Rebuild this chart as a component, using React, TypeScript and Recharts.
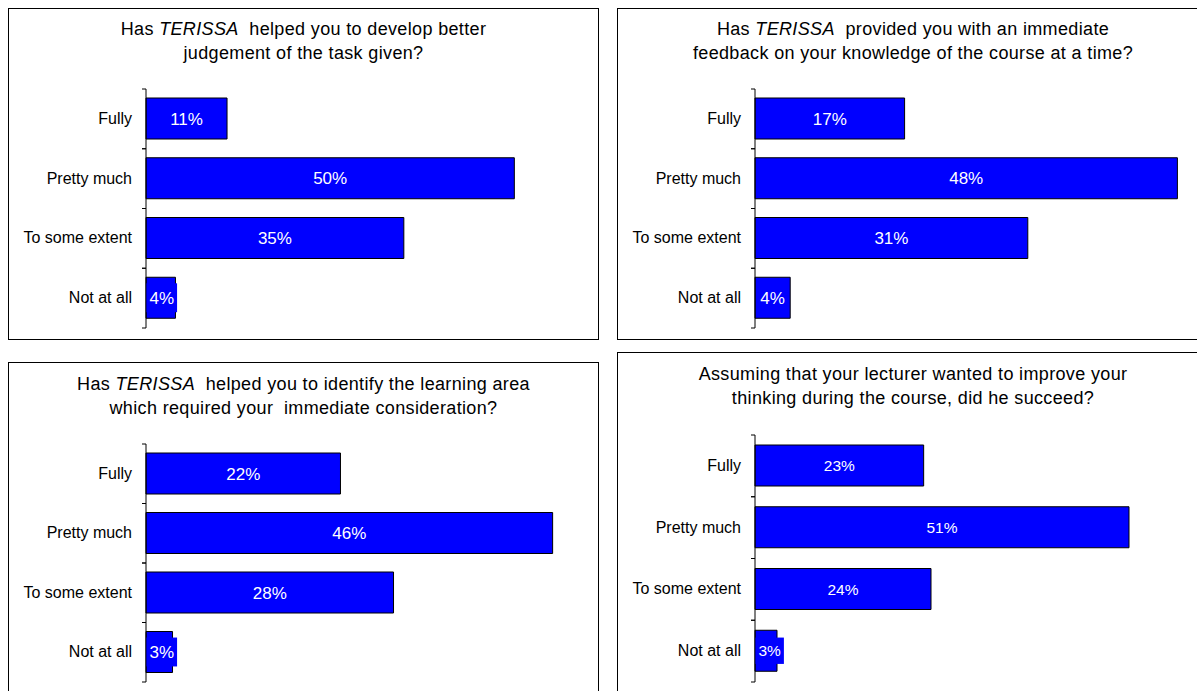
import React from 'react';
import { BarChart, Bar, XAxis, YAxis, LabelList } from 'recharts';

const categories = ['Fully', 'Pretty much', 'To some extent', 'Not at all'];
const judgementValues = [11, 50, 35, 4];
const feedbackValues = [17, 48, 31, 4];
const learningAreaValues = [22, 46, 28, 3];
const thinkingValues = [23, 51, 24, 3];

const judgementTitle = ['Has |TERISSA|  helped you to develop better', 'judgement of the task given?'];
const feedbackTitle = ['Has |TERISSA|  provided you with an immediate', 'feedback on your knowledge of the course at a time?'];
const learningAreaTitle = ['Has |TERISSA|  helped you to identify the learning area', 'which required your  immediate consideration?'];
const thinkingTitle = ['Assuming that your lecturer wanted to improve your', 'thinking during the course, did he succeed?'];

const FONT = '"Liberation Sans", Arial, Helvetica, sans-serif';
const BLUE = '#0000FF';
const AXIS_W = 138;

type Panel = {
  values: number[];
  title: string[];
  left: number;
  top: number;
  width: number;
  height: number;
  plotTop: number;
  plotHeight: number;
  plotWidth: number;
  xMax: number;
  labelSize: number;
  titleX: number;
  titleY: number[];
};

const panels: Panel[] = [
  { values: judgementValues, title: judgementTitle, left: 8, top: 8, width: 591, height: 332, plotTop: 81, plotHeight: 239, plotWidth: 442, xMax: 60, labelSize: 17, titleX: 303.5, titleY: [34.5, 58.5] },
  { values: feedbackValues, title: feedbackTitle, left: 617, top: 8, width: 592, height: 332, plotTop: 81, plotHeight: 239, plotWidth: 440, xMax: 50, labelSize: 17, titleX: 913, titleY: [34.5, 58.5] },
  { values: learningAreaValues, title: learningAreaTitle, left: 8, top: 362, width: 591, height: 340, plotTop: 82, plotHeight: 238, plotWidth: 442, xMax: 50, labelSize: 17, titleX: 303.5, titleY: [389.5, 413.5] },
  { values: thinkingValues, title: thinkingTitle, left: 617, top: 352, width: 592, height: 350, plotTop: 83, plotHeight: 247, plotWidth: 440, xMax: 60, labelSize: 15.5, titleX: 913, titleY: [379.5, 403.5] },
];

const charWidth = (c: string) => (c === '%' ? 0.889 : 0.556);

const makeLabel = (fontSize: number) => (props: any) => {
  const { x, y, width, height, value } = props;
  const text = `${value}%`;
  const textW = text.split('').reduce((s, c) => s + charWidth(c), 0) * fontSize;
  const boxW = textW + 6;
  const boxH = fontSize * 1.7;
  const cx = Math.max(x + width / 2, x + boxW / 2 + 0.5);
  const cy = y + height / 2;
  return (
    <g>
      <rect x={cx - boxW / 2} y={cy - boxH / 2} width={boxW} height={boxH} fill={BLUE} />
      <text x={cx} y={cy} dy={fontSize * 0.36} textAnchor="middle" fill="#FFFFFF" fontSize={fontSize} fontFamily={FONT}>
        {text}
      </text>
    </g>
  );
};

const makeTick = (bandHalf: number) => (props: any) => {
  const { y, payload } = props;
  return (
    <g>
      <text x={AXIS_W - 14} y={y} dy={5} textAnchor="end" fontSize={16} fill="#000" fontFamily={FONT}>
        {payload.value}
      </text>
      <line x1={AXIS_W - 4} x2={AXIS_W} y1={y - bandHalf} y2={y - bandHalf} stroke="#000" />
      <line x1={AXIS_W - 4} x2={AXIS_W} y1={y + bandHalf} y2={y + bandHalf} stroke="#000" />
    </g>
  );
};

const TitleLine = ({ text, x, y }: { text: string; x: number; y: number }) => {
  const parts = text.split('|');
  return (
    <text x={x} y={y} textAnchor="middle" fontSize={18} fontFamily={FONT} fill="#000" letterSpacing={0.35} style={{ whiteSpace: 'pre' }}>
      {parts.map((p, i) => (
        <tspan key={i} fontStyle={i % 2 === 1 ? 'italic' : 'normal'}>
          {p}
        </tspan>
      ))}
    </text>
  );
};

const ChartPanel = ({ p }: { p: Panel }) => {
  const data = categories.map((c, i) => ({ category: c, value: p.values[i] }));
  const bottom = p.height - p.plotTop - p.plotHeight;
  const right = p.width - AXIS_W - p.plotWidth;
  return (
    <div style={{ position: 'absolute', left: p.left, top: p.top, width: p.width, height: p.height }}>
      <div style={{ position: 'absolute', left: 0, top: 0, width: p.width, height: p.height, border: '1px solid #000', boxSizing: 'border-box' }} />
      <div style={{ position: 'absolute', left: 0, top: 0 }}>
        <BarChart
          width={p.width}
          height={p.height}
          data={data}
          layout="vertical"
          margin={{ top: p.plotTop, right, bottom, left: 0 }}
        >
          <XAxis type="number" domain={[0, p.xMax]} hide />
          <YAxis
            type="category"
            dataKey="category"
            width={AXIS_W}
            axisLine={{ stroke: '#000' }}
            tickLine={false}
            tick={makeTick(p.plotHeight / categories.length / 2)}
            interval={0}
          />
          <Bar dataKey="value" fill={BLUE} stroke="#000" strokeWidth={1} barSize={41} isAnimationActive={false}>
            <LabelList dataKey="value" content={makeLabel(p.labelSize)} />
          </Bar>
        </BarChart>
      </div>
    </div>
  );
};

export default function App() {
  return (
    <div style={{ position: 'fixed', left: 0, top: 0, width: 1197, height: 691, overflow: 'hidden', background: '#fff', fontFamily: FONT }}>
      {panels.map((p, i) => (
        <ChartPanel key={i} p={p} />
      ))}
      <svg width={1197} height={691} style={{ position: 'absolute', left: 0, top: 0, pointerEvents: 'none' }}>
        {panels.map((p, i) =>
          p.title.map((line, j) => <TitleLine key={`${i}-${j}`} text={line} x={p.titleX} y={p.titleY[j]} />)
        )}
      </svg>
    </div>
  );
}
